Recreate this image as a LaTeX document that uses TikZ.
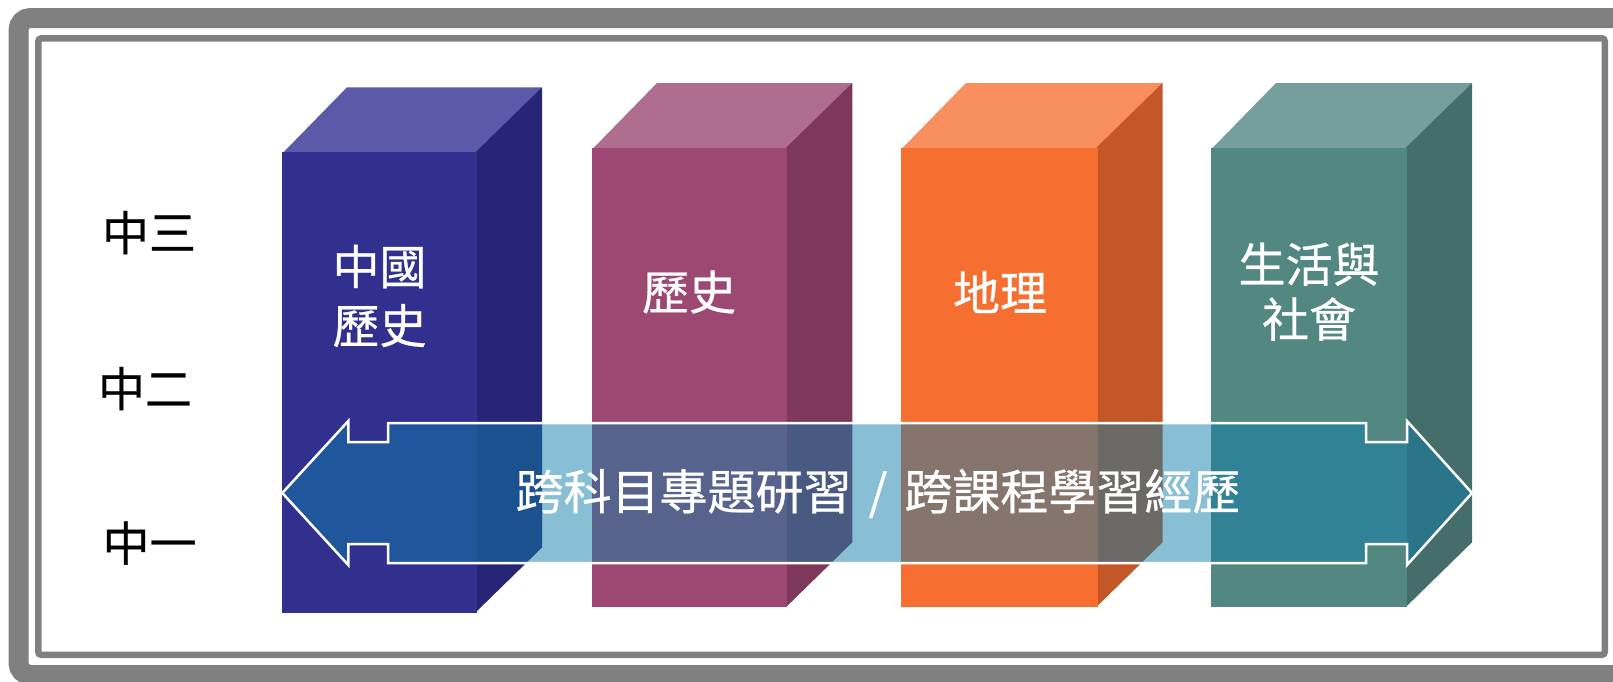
\documentclass[tikz,border=0pt]{standalone}
\usepackage{fontspec}
\newfontfamily\cjk[FakeBold=0.6]{Noto Sans CJK TC}
\definecolor{framegray}{HTML}{808080}
\definecolor{aF}{HTML}{31308F}\definecolor{aT}{HTML}{5A5AA9}\definecolor{aS}{HTML}{272676}
\definecolor{bF}{HTML}{9C4872}\definecolor{bT}{HTML}{B06E8F}\definecolor{bS}{HTML}{7E385C}
\definecolor{cF}{HTML}{F76E31}\definecolor{cT}{HTML}{F98F5F}\definecolor{cS}{HTML}{C45727}
\definecolor{dF}{HTML}{528782}\definecolor{dT}{HTML}{749F9C}\definecolor{dS}{HTML}{456D69}
\definecolor{arrowblue}{RGB}{16,126,171}
\newcommand\solidbox[7]{%
  \fill[#6] ({#1},{#2+1.5}) -- ({#1+65},{#2-65}) -- ({#3+65},{#2-65}) -- ({#3},{#2+1.5}) -- cycle;
  \fill[#7] ({#3-1.5},{#2}) -- ({#3+65},{#2-65}) -- ({#3+65},{#4-65}) -- ({#3-1.5},{#4}) -- cycle;
  \fill[#5] (#1,#2) rectangle (#3,#4);
}
\tikzset{
  sidelabel/.style={font=\cjk\fontsize{47}{59}\selectfont, text=black, inner sep=0pt},
  boxlabel/.style={font=\cjk\fontsize{47}{59}\selectfont, text=white, align=center, inner sep=0pt},
  arrowlabel/.style={font=\cjk\fontsize{48}{59}\selectfont, text=white, inner sep=0pt},
}
\begin{document}
\begin{tikzpicture}[x=1pt,y=-1pt]
\useasboundingbox (0,0) rectangle (1613,681);
\fill[white] (0,0) rectangle (1613,681);
% frames
\draw[framegray, line width=20pt, rounded corners=12pt] (18.5,18) rectangle (1660,675);
\draw[framegray, line width=6.5pt, rounded corners=3pt] (38.3,38.3) rectangle (1604.8,654.8);
% boxes
\solidbox{282}{152.3}{477}{612.5}{aF}{aT}{aS}
\solidbox{592}{148}{787.3}{607.3}{bF}{bT}{bS}
\solidbox{901}{148}{1097.5}{607.3}{cF}{cT}{cS}
\solidbox{1211}{148}{1407}{607.3}{dF}{dT}{dS}
% level labels
\node[sidelabel] (s3) at (149,232.5) {中三};
\node[sidelabel] (s2) at (145,388.5) {中二};
\node[sidelabel] (s1) at (149.5,543) {中一};
% box labels
\node[boxlabel] (b1) at (379.5,296) {中國\\歷史};
\node[boxlabel] (b2) at (689,292) {歷史};
\node[boxlabel] (b3) at (1000,292) {地理};
\node[boxlabel, font=\cjk\fontsize{47}{55}\selectfont] (b4) at (1309,291.7) {生活與\\社會};
% double arrow
\draw[white, line width=2.5pt, fill=arrowblue, fill opacity=0.49, line join=miter]
  (282.3,493) -- (348.3,421) -- (348.3,442) -- (388,442) -- (388,423)
  -- (1366,423) -- (1366,442) -- (1407,442) -- (1407,421) -- (1472,493)
  -- (1407,565) -- (1407,544) -- (1366,544) -- (1366,563)
  -- (388,563) -- (388,544) -- (348.3,544) -- (348.3,565) -- cycle;
\node[arrowlabel] (al) at (878,493.5) {跨科目專題研習\hspace{17pt}/\hspace{17pt}跨課程學習經歷};
\end{tikzpicture}
\end{document}
